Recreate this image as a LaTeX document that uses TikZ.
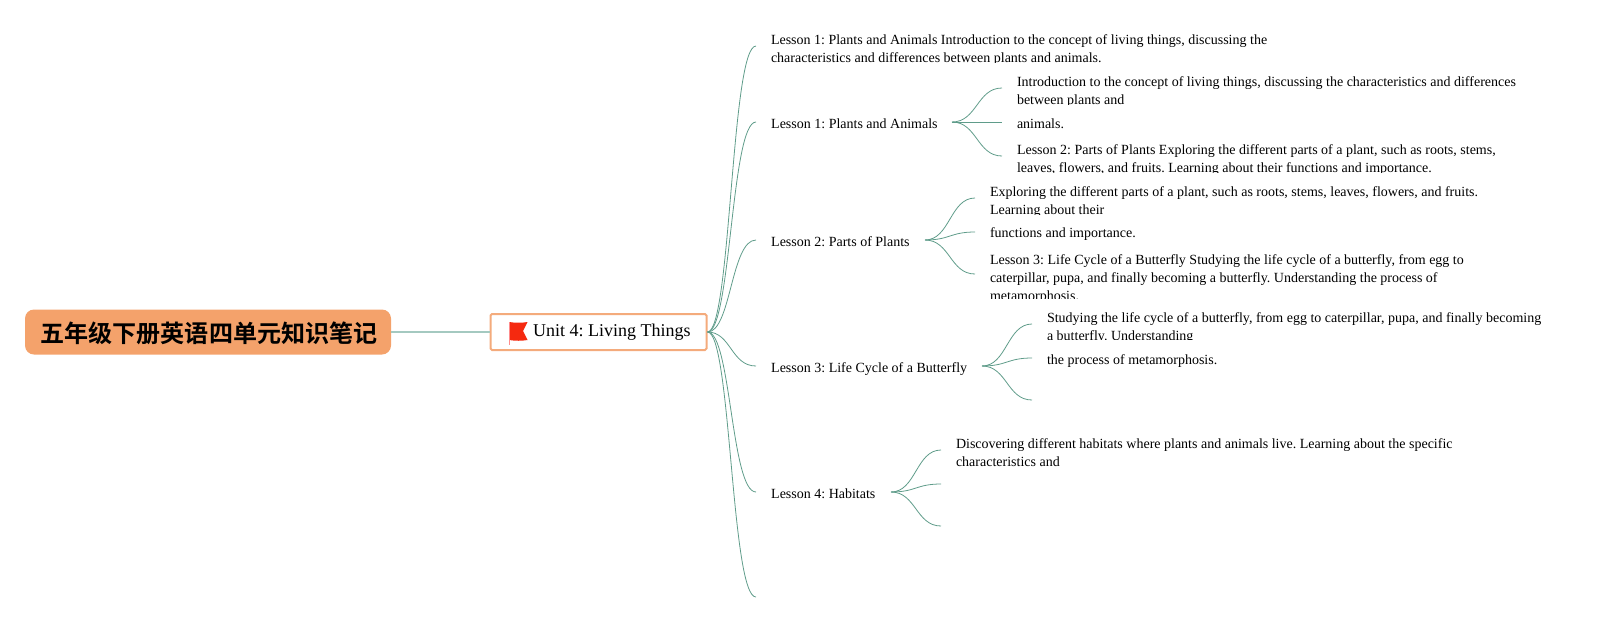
\documentclass[tikz,border=0pt]{standalone}
\usepackage{fontspec}
\setmainfont{Liberation Serif}
\newfontfamily\cjk{Noto Sans CJK SC}[BoldFont={Noto Sans CJK SC Bold}]
\definecolor{rootfill}{HTML}{F4A26B}
\definecolor{unitline}{HTML}{F4AB7C}
\definecolor{linkc}{HTML}{5F9C8A}
\definecolor{rootlink}{HTML}{A4C9C0}
\definecolor{flagred}{HTML}{F5290F}
\begin{document}
\frenchspacing
\begin{tikzpicture}[x=1pt,y=-1pt,
  link/.style={draw=linkc,line width=0.8pt},
  txt/.style={anchor=north west,inner sep=0pt,outer sep=0pt,font=\fontsize{14}{18}\selectfont\frenchspacing,align=left},
  lbl/.style={anchor=west,inner sep=0pt,font=\fontsize{14}{18}\selectfont\frenchspacing}]
\useasboundingbox (0,0) rectangle (1607,622);
\node[fill=rootfill,rounded corners=9pt,minimum width=366pt,minimum height=45pt,inner sep=0pt,font=\cjk\bfseries\fontsize{24.05}{28}\selectfont] (root) at (208,332) {\hspace{2pt}\raisebox{-10.5pt}[0pt][0pt]{五年级下册英语四单元知识笔记}};
\node[draw=unitline,line width=2pt,fill=white,rounded corners=1.5pt,minimum width=216pt,minimum height=36pt,inner sep=0pt] (unit) at (598.5,332) {};
\node[anchor=west,inner sep=0pt,font=\fontsize{18}{22}\selectfont\frenchspacing] (unittext) at (533,332) {Unit 4: Living Things};
\fill[flagred] (509,322) .. controls (515,323) and (522,323) .. (527.5,322) -- (523,331) -- (527.5,340) .. controls (522,341) and (515,341) .. (509,340) -- cycle;
\draw[red!45!white,line width=0.6pt] (509.5,322) -- (509.5,345);
\draw[rootlink,line width=1.2pt] (root.east |- unit.west) -- (unit.west);
% first level
\node[lbl] (l1) at (771,124) {Lesson 1: Plants and Animals};
\node[lbl] (l2) at (771,242) {Lesson 2: Parts of Plants};
\node[lbl] (l3) at (771,369) {Lesson 3: Life Cycle of a Butterfly};
\node[lbl] (l4) at (771,494) {Lesson 4: Habitats};
\foreach \n/\y in {a/46,b/122,c/240,d/366,e/492,f/597}{\coordinate (e\n) at (756,\y);}
\foreach \n in {a,b,c,d,e,f}{
  \draw[link] (unit.east) .. controls (731,332) and (731,0 |- e\n) .. (e\n);
}
\begin{scope}
\clip (760,25) rectangle (1300,62.5);
\node[txt] (t0) at (771,35) {Lesson 1: Plants and Animals Introduction to the concept of living things, discussing the\\characteristics and differences between plants and animals.};
\end{scope}
\begin{scope}
\clip (1010,66) rectangle (1540,104.5);
\node[txt] (t1) at (1017,77) {Introduction to the concept of living things, discussing the characteristics and differences\\between plants and};
\end{scope}
\node[txt] (t2) at (1017,119) {animals.};
\begin{scope}
\clip (1010,134) rectangle (1540,172.2);
\node[txt] (t3) at (1017,145) {Lesson 2: Parts of Plants Exploring the different parts of a plant, such as roots, stems,\\leaves, flowers, and fruits. Learning about their functions and importance.};
\end{scope}
\begin{scope}
\clip (985,176) rectangle (1540,214.7);
\node[txt] (t4) at (990,187) {Exploring the different parts of a plant, such as roots, stems, leaves, flowers, and fruits.\\Learning about their};
\end{scope}
\node[txt] (t5) at (990,228) {functions and importance.};
\begin{scope}
\clip (985,246) rectangle (1540,298.2);
\node[txt] (t6) at (990,255) {Lesson 3: Life Cycle of a Butterfly Studying the life cycle of a butterfly, from egg to\\caterpillar, pupa, and finally becoming a butterfly. Understanding the process of\\metamorphosis.};
\end{scope}
\begin{scope}
\clip (1040,304) rectangle (1560,339.7);
\node[txt] (t7) at (1047,313) {Studying the life cycle of a butterfly, from egg to caterpillar, pupa, and finally becoming\\a butterfly. Understanding};
\end{scope}
\node[txt] (t8) at (1047,355) {the process of metamorphosis.};
\node[txt] (t9) at (956,439) {Discovering different habitats where plants and animals live. Learning about the specific\\characteristics and};
% second level
\coordinate (b0) at (952,122);
\coordinate (c0) at (925,240);
\coordinate (d0) at (982,366);
\coordinate (e0) at (891,492);
\foreach \s/\y in {b0/88,b0/122,b0/156,c0/198,c0/232,c0/274,d0/324,d0/358,d0/400,e0/450,e0/484,e0/526}{
  \draw[link] (\s) .. controls ([xshift=25pt]\s) and ([xshift=25pt]\s |- 0,\y) .. ([xshift=50pt]\s |- 0,\y);
}
\end{tikzpicture}
\end{document}
